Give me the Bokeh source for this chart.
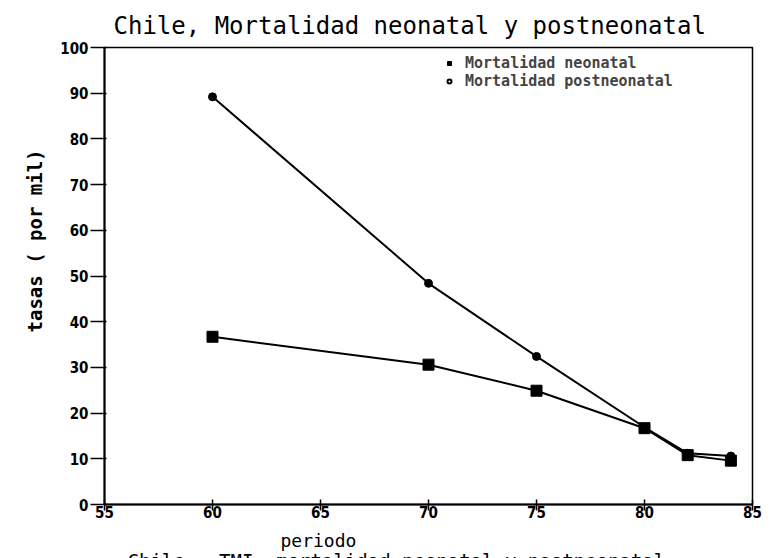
from bokeh.plotting import figure
from bokeh.models import Legend, LegendItem, FixedTicker, Range1d, Title
from bokeh.embed import file_html
from bokeh.resources import INLINE

periodo = [60, 70, 75, 80, 82, 84]
neonatal = [36.7, 30.6, 24.9, 16.7, 10.8, 9.6]
postneonatal = [89.2, 48.4, 32.4, 16.9, 11.2, 10.6]
x_ticks = [55, 60, 65, 70, 75, 80, 85]
y_ticks = [0, 10, 20, 30, 40, 50, 60, 70, 80, 90, 100]

W, H = 765, 558
p = figure(width=W, height=H, output_backend="svg", toolbar_location=None,
           x_range=Range1d(55, 85), y_range=Range1d(0, 100),
           min_border_left=104, min_border_right=13, min_border_top=47, min_border_bottom=53)
p.background_fill_color = "white"
p.border_fill_color = "white"
p.outline_line_color = "black"
p.outline_line_width = 1.5
p.xgrid.visible = False
p.ygrid.visible = False

p.title.text = "Chile, Mortalidad neonatal y postneonatal"
p.title.align = "left"
p.title.offset = 9
p.title.standoff = 16
p.title.text_font = "DejaVu Sans Mono"
p.title.text_font_style = "normal"
p.title.text_font_size = "24px"
p.title.text_color = "black"

TICK_FONT = "DejaVu Sans Condensed"
for ax in (p.xaxis[0], p.yaxis[0]):
    ax.axis_line_color = "black"
    ax.axis_line_width = 2
    ax.major_tick_line_color = "black"
    ax.major_tick_line_width = 1.5
    ax.minor_tick_line_color = None
    ax.major_label_text_font = TICK_FONT
    ax.major_label_text_font_style = "bold"
    ax.major_label_text_font_size = "15px"
    ax.major_label_text_color = "black"
p.xaxis.ticker = FixedTicker(ticks=x_ticks)
p.yaxis.ticker = FixedTicker(ticks=y_ticks)
p.xaxis.major_tick_in = 5
p.xaxis.major_tick_out = 6
p.xaxis.major_label_standoff = -5
p.yaxis.major_tick_in = 2
p.yaxis.major_tick_out = 14
p.yaxis.major_label_standoff = 2

p.line(periodo, postneonatal, line_color="black", line_width=2)
p.line(periodo, neonatal, line_color="black", line_width=2)
p.scatter(periodo, postneonatal, marker="circle", size=8, fill_color="black", line_color="black")
p.scatter(periodo, neonatal, marker="square", size=11, fill_color="black", line_color="black")

nan = float("nan")
r1 = p.scatter(x=[nan], y=[nan], marker="square", size=7, fill_color="black", line_color="black")
r2 = p.scatter(x=[nan], y=[nan], marker="circle", size=6, fill_color="white", line_color="black", line_width=2)
legend = Legend(items=[LegendItem(label="Mortalidad neonatal", renderers=[r1]),
                       LegendItem(label="Mortalidad postneonatal", renderers=[r2])],
                location=(340, 414), border_line_color=None, background_fill_alpha=0,
                padding=0, margin=0, spacing=-3, label_height=14, glyph_width=10, glyph_height=14,
                label_standoff=11, label_text_font="DejaVu Sans Mono", label_text_font_style="bold",
                label_text_font_size="15px")
p.add_layout(legend, "center")

p.add_layout(Title(text="tasas ( por mil)", align="left", offset=172, standoff=24,
                   text_font="DejaVu Sans Mono", text_font_style="bold",
                   text_font_size="19px", text_color="black"), "left")
p.add_layout(Title(text="periodo", align="left", offset=176, standoff=15,
                   text_font="DejaVu Sans Mono", text_font_style="normal",
                   text_font_size="18px", text_color="black"), "below")
p.add_layout(Title(text="Chile : TMI, mortalidad neonatal y postneonatal", align="left",
                   offset=23, standoff=-26, vertical_align="bottom", text_baseline="middle",
                   text_font="DejaVu Sans Mono",
                   text_font_style="normal", text_font_size="19px", text_color="black"), "below")

open("out.html", "w").write(file_html(p, INLINE))
